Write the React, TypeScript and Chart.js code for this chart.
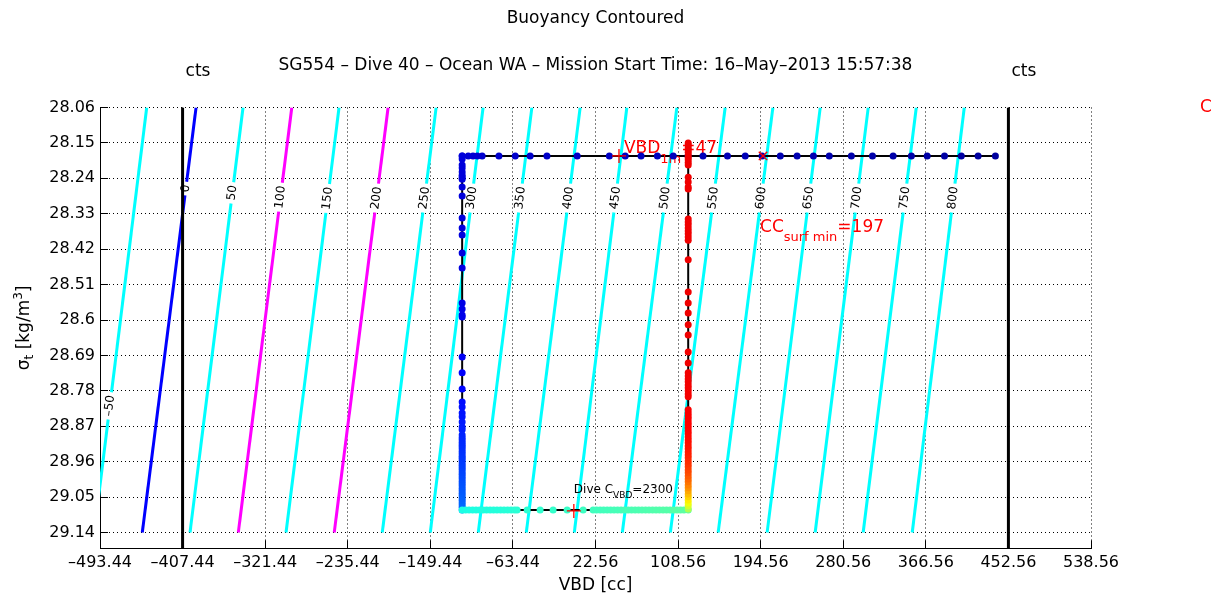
import React, { useEffect, useRef } from "react";
import { Chart, registerables } from "chart.js";

Chart.register(...registerables);

const FONT = "'DejaVu Sans', 'Liberation Sans', sans-serif";

// ---------- axes ----------
const xMin = -493.44;
const xMax = 538.56;
const yMin = 28.06;
const yMax = 29.18;
const xTickValues = [-493.44, -407.44, -321.44, -235.44, -149.44, -63.44, 22.56, 108.56, 194.56, 280.56, 366.56, 452.56, 538.56];
const yTickValues = [28.06, 28.15, 28.24, 28.33, 28.42, 28.51, 28.6, 28.69, 28.78, 28.87, 28.96, 29.05, 29.14];

const titleText = "Buoyancy Contoured";
const subtitleText = "SG554 \u2013 Dive 40 \u2013 Ocean WA \u2013 Mission Start Time: 16\u2013May\u20132013 15:57:38";

// ---------- buoyancy contours ----------
const contourLevels = [-50, 0, 50, 100, 150, 200, 250, 300, 350, 400, 450, 500, 550, 600, 650, 700, 750, 800];
const contourSigmaTop = 28.06;
const contourSigmaBottom = 29.14;
const contourVbdTop = [-444.8, -393.4, -344.5, -293.7, -244.5, -193.4, -143.4, -94.5, -43.7, 6.6, 55.2, 107.3, 157.6, 207.3, 256.6, 306.6, 356.6, 406.6];
const contourVbdBottom = [-499.5, -449.4, -399.7, -349.4, -299.7, -249.5, -199.5, -149.5, -99.5, -49.5, 0.5, 50.5, 100.5, 150.3, 201.3, 251.3, 301.3, 352.4];
const contourLabelSigma = [28.818, 28.266, 28.277, 28.288, 28.291, 28.29, 28.29, 28.29, 28.29, 28.29, 28.29, 28.29, 28.29, 28.29, 28.29, 28.29, 28.29, 28.29];

// ---------- "cts" reference lines ----------
const ctsLineVbd = [-407.44, 452.56];
const cLabelVbd = 652;

// ---------- dive trajectory ----------
const surfaceSigma = 28.183;
const topLegVbd = [439, 421, 403.5, 386, 368, 351.5, 332.5, 311, 289, 266, 249.5, 232.5, 215, 196, 178.5, 160, 134.5, 119, 103.5, 87, 70, 53.5, 37, 3.5, -28, -45.5, -61, -78, -95.5, -100.5, -105, -110, -116.3];

const descentVbd = -116.3;
const descentSigma = [28.183, 28.191, 28.206, 28.214, 28.224, 28.232, 28.237, 28.242, 28.262, 28.285, 28.341, 28.366, 28.384, 28.43, 28.468, 28.557, 28.572, 28.587, 28.592, 28.694, 28.734, 28.775, 28.808, 28.821, 28.836, 28.846, 28.859, 28.872, 28.879, 28.892, 28.899, 28.905, 28.911, 28.917, 28.922, 28.928, 28.934, 28.94, 28.946, 28.951, 28.957, 28.963, 28.969, 28.975, 28.98, 28.986, 28.992, 28.998, 29.004, 29.01, 29.016, 29.022, 29.028, 29.034, 29.04, 29.046, 29.052, 29.058, 29.064, 29.07, 29.076, 29.083];

const bottomSigma = 29.083;
const bottomLegVbd = [-116.3, -112.7, -109.1, -105.4, -101.8, -98.1, -94.5, -90.9, -87.2, -83.6, -80.0, -76.3, -72.7, -69.0, -65.4, -61.8, -59.1, -48.6, -35.1, -21.6, -7.0, 9.7, 20.1, 23.7, 27.4, 31.0, 34.7, 38.3, 41.9, 45.6, 49.2, 52.9, 56.5, 60.1, 63.8, 67.4, 71.0, 74.7, 78.3, 82.0, 85.6, 89.2, 92.9, 96.5, 100.2, 103.8, 107.4, 111.1, 114.7, 119.1];

const climbVbd = 119.1;
const climbSigma = [29.08, 29.072, 29.065, 29.057, 29.049, 29.042, 29.034, 29.026, 29.019, 29.011, 29.004, 28.996, 28.988, 28.981, 28.973, 28.966, 28.958, 28.95, 28.943, 28.935, 28.927, 28.92, 28.912, 28.905, 28.897, 28.889, 28.882, 28.874, 28.866, 28.859, 28.851, 28.844, 28.836, 28.828, 28.795, 28.788, 28.78, 28.772, 28.765, 28.757, 28.75, 28.742, 28.734, 28.709, 28.681, 28.638, 28.612, 28.582, 28.557, 28.529, 28.447, 28.397, 28.389, 28.381, 28.374, 28.366, 28.358, 28.351, 28.343, 28.267, 28.262, 28.249, 28.237, 28.206, 28.2, 28.193, 28.187, 28.181, 28.174, 28.168, 28.162, 28.155, 28.15];

// ---------- annotations ----------
const vbd1m = 47;
const ccSurfMin = 197;
const cVbdValue = 2300;
const cVbdMarkVbd = 0;
const cVbdMarkSigma = 29.085;

// ---------- layout (pixels) ----------
const W = 1223;
const H = 599;
const plotLeft = 100;
const plotRight = 1091;
const plotTop = 107.5;
const plotBottom = 548.3;

const jet = (t: number) => {
  const c = (v: number) => Math.round(255 * Math.max(0, Math.min(1, v)));
  return `rgb(${c(1.5 - Math.abs(4 * t - 3))},${c(1.5 - Math.abs(4 * t - 2))},${c(1.5 - Math.abs(4 * t - 1))})`;
};

const fmtX = (v: number) => (v < 0 ? "\u2013" : "") + Math.abs(v).toFixed(2);
const fmtY = (v: number) => String(Math.round(v * 100) / 100);
const fmtLevel = (v: number) => (v < 0 ? "\u2013" : "") + Math.abs(v);

const contourColor = (lvl: number) => (lvl === 0 ? "#0000ff" : lvl === 100 || lvl === 200 ? "#ff00ff" : "#00ffff");

const vbdOnContour = (k: number, s: number) =>
  contourVbdTop[k] + ((contourVbdBottom[k] - contourVbdTop[k]) * (s - contourSigmaTop)) / (contourSigmaBottom - contourSigmaTop);

function drawRich(ctx: CanvasRenderingContext2D, x: number, y: number, parts: [string, number, number][]) {
  let cx = x;
  for (const [txt, size, dy] of parts) {
    ctx.font = `${size}px ${FONT}`;
    ctx.fillText(txt, cx, y + dy);
    cx += ctx.measureText(txt).width;
  }
}

function richWidth(ctx: CanvasRenderingContext2D, parts: [string, number, number][]) {
  let w = 0;
  for (const [txt, size] of parts) {
    ctx.font = `${size}px ${FONT}`;
    w += ctx.measureText(txt).width;
  }
  return w;
}

const overlayPlugin: any = {
  id: "overlay",
  beforeDatasetsDraw(chart: any) {
    const { ctx, chartArea: a, scales } = chart;
    const x = scales.x;
    const y = scales.y;
    ctx.save();
    ctx.strokeStyle = "#000";
    ctx.lineWidth = 1;
    ctx.setLineDash([]);
    ctx.beginPath();
    for (const v of xTickValues) {
      const px = Math.round(x.getPixelForValue(v) - 0.5) + 0.5;
      ctx.moveTo(px, a.bottom);
      ctx.lineTo(px, a.bottom - 8);
    }
    for (const v of yTickValues) {
      const py = Math.round(y.getPixelForValue(v) - 0.5) + 0.5;
      ctx.moveTo(a.left, py);
      ctx.lineTo(a.left + 8, py);
    }
    ctx.stroke();
    ctx.restore();
  },
  afterDatasetDraw(chart: any, args: any) {
    const ds = chart.data.datasets[args.index];
    if (ds.label !== "trajectory") return;
    const { ctx, scales } = chart;
    const x = scales.x;
    const y = scales.y;
    ctx.save();
    ctx.textAlign = "left";
    ctx.textBaseline = "alphabetic";
    ctx.fillStyle = "#ff0000";
    const p1x = x.getPixelForValue(vbd1m);
    const p1y = y.getPixelForValue(surfaceSigma);
    drawRich(ctx, p1x + 5, p1y - 3, [["VBD", 17, 0], ["1m", 13, 10], ["=" + String(vbd1m), 17, 0]]);
    const p2x = x.getPixelForValue(ccSurfMin);
    drawRich(ctx, p2x - 3, p1y + 76, [["CC", 17, 0], ["surf min", 13, 9], ["=" + String(ccSurfMin), 17, 0]]);
    ctx.fillStyle = "#000";
    const p3x = x.getPixelForValue(cVbdMarkVbd);
    const p3y = y.getPixelForValue(cVbdMarkSigma);
    drawRich(ctx, p3x, p3y - 18, [["Dive C", 12, 0], ["VBD", 9, 5], ["=" + String(cVbdValue), 12, 0]]);
    ctx.restore();
  },
  afterDatasetsDraw(chart: any) {
    const { ctx, scales } = chart;
    const x = scales.x;
    const y = scales.y;
    ctx.save();
    ctx.font = `12px ${FONT}`;
    ctx.fillStyle = "#000";
    ctx.textAlign = "center";
    ctx.textBaseline = "middle";
    contourLevels.forEach((lvl, k) => {
      const s = contourLabelSigma[k];
      const px = x.getPixelForValue(vbdOnContour(k, s));
      const py = y.getPixelForValue(s);
      const ang = Math.atan2(
        y.getPixelForValue(contourSigmaTop) - y.getPixelForValue(contourSigmaBottom),
        x.getPixelForValue(contourVbdTop[k]) - x.getPixelForValue(contourVbdBottom[k])
      );
      ctx.save();
      ctx.translate(px, py);
      ctx.rotate(ang);
      ctx.fillText(fmtLevel(lvl), 0, 0);
      ctx.restore();
    });
    ctx.restore();
  },
  afterDraw(chart: any) {
    const { ctx, chartArea: a, scales } = chart;
    const x = scales.x;
    const y = scales.y;
    const cx = (a.left + a.right) / 2;
    ctx.save();
    ctx.fillStyle = "#000";
    ctx.font = `17px ${FONT}`;
    ctx.textAlign = "center";
    ctx.textBaseline = "middle";
    ctx.fillText(titleText, cx, 19);
    ctx.fillText(subtitleText, cx, 66);
    ctx.fillText("VBD [cc]", cx, 586);
    ctx.textAlign = "left";
    for (const v of ctsLineVbd) ctx.fillText("cts", x.getPixelForValue(v) + 3, 72);
    ctx.fillStyle = "#ff0000";
    ctx.fillText("C", x.getPixelForValue(cLabelVbd), y.getPixelForValue(yMin));
    // y axis title
    ctx.fillStyle = "#000";
    const parts: [string, number, number][] = [["\u03c3", 17, 0], ["t", 12, 4], [" [kg/m", 17, 0], ["3", 12, -7], ["]", 17, 0]];
    const tw = richWidth(ctx, parts);
    ctx.translate(29, (a.top + a.bottom) / 2);
    ctx.rotate(-Math.PI / 2);
    ctx.textBaseline = "alphabetic";
    drawRich(ctx, -tw / 2, 0, parts);
    ctx.restore();
  },
};

function buildConfig(): any {
  const mctx = document.createElement("canvas").getContext("2d") as CanvasRenderingContext2D;
  mctx.font = `12px ${FONT}`;
  const pxPerSigma = (plotBottom - plotTop) / (yMax - yMin);

  const datasets: any[] = [];

  contourLevels.forEach((lvl, k) => {
    const sl = contourLabelSigma[k];
    const half = (mctx.measureText(fmtLevel(lvl)).width / 2 + 3) / pxPerSigma;
    const color = contourColor(lvl);
    const base = { type: "scatter", showLine: true, pointRadius: 0, borderColor: color, borderWidth: 3, order: 6, clip: 0 };
    datasets.push({
      ...base,
      label: "contour" + lvl + "a",
      data: [
        { x: contourVbdTop[k], y: contourSigmaTop },
        { x: vbdOnContour(k, sl - half), y: sl - half },
      ],
    });
    datasets.push({
      ...base,
      label: "contour" + lvl + "b",
      data: [
        { x: vbdOnContour(k, sl + half), y: sl + half },
        { x: contourVbdBottom[k], y: contourSigmaBottom },
      ],
    });
  });

  ctsLineVbd.forEach((v, i) => {
    datasets.push({
      type: "scatter",
      label: "cts" + i,
      showLine: true,
      pointRadius: 0,
      borderColor: "#000",
      borderWidth: 3,
      order: 5,
      clip: 0,
      data: [
        { x: v, y: yMin },
        { x: v, y: yMax },
      ],
    });
  });

  const traj: { x: number; y: number }[] = [];
  const colors: string[] = [];
  topLegVbd.forEach((v, i) => {
    traj.push({ x: v, y: surfaceSigma });
    colors.push(jet(0.03 + (0.055 * i) / (topLegVbd.length - 1)));
  });
  descentSigma.forEach((s) => {
    traj.push({ x: descentVbd, y: s });
    const g = (s - surfaceSigma) / (bottomSigma - surfaceSigma);
    colors.push(jet(0.09 + 0.14 * g * g * g));
  });
  bottomLegVbd.forEach((v) => {
    traj.push({ x: v, y: bottomSigma });
    const f = (v - bottomLegVbd[0]) / (bottomLegVbd[bottomLegVbd.length - 1] - bottomLegVbd[0]);
    colors.push(jet(0.4 + 0.065 * f));
  });
  const climbTop = climbSigma[climbSigma.length - 1];
  climbSigma.forEach((s) => {
    traj.push({ x: climbVbd, y: s });
    const f = (bottomSigma - s) / (bottomSigma - climbTop);
    colors.push(jet(0.53 + 0.36 * (1 - Math.exp(-f / 0.075))));
  });

  datasets.push({
    type: "scatter",
    label: "trajectory",
    showLine: true,
    pointRadius: 0,
    borderColor: "#000",
    borderWidth: 2,
    order: 4,
    data: traj,
  });
  datasets.push({
    type: "scatter",
    label: "samples",
    showLine: false,
    pointRadius: 3.5,
    pointBorderWidth: 0,
    pointBackgroundColor: colors,
    pointBorderColor: colors,
    order: 3,
    data: traj,
  });
  datasets.push({
    type: "scatter",
    label: "marks",
    showLine: false,
    pointStyle: ["cross", "crossRot", "cross"],
    pointRadius: [7, 6, 7],
    pointBorderColor: "#ff0000",
    pointBackgroundColor: "#ff0000",
    pointBorderWidth: 1.3,
    order: 1,
    data: [
      { x: vbd1m, y: surfaceSigma },
      { x: ccSurfMin, y: surfaceSigma },
      { x: cVbdMarkVbd, y: cVbdMarkSigma },
    ],
  });

  return {
    type: "scatter",
    data: { datasets },
    plugins: [overlayPlugin],
    options: {
      animation: false,
      responsive: false,
      maintainAspectRatio: false,
      events: [],
      layout: { padding: { top: plotTop, right: W - plotRight, left: 0, bottom: 0 } },
      plugins: {
        legend: { display: false },
        tooltip: { enabled: false },
        title: { display: false },
      },
      scales: {
        x: {
          type: "linear",
          min: xMin,
          max: xMax,
          bounds: "data",
          afterBuildTicks: (s: any) => {
            s.ticks = xTickValues.map((v) => ({ value: v }));
          },
          afterFit: (s: any) => {
            s.height = H - plotBottom;
          },
          ticks: {
            autoSkip: false,
            maxRotation: 0,
            minRotation: 0,
            padding: 5,
            color: "#000",
            font: { family: FONT, size: 16 },
            callback: (v: any) => fmtX(Number(v)),
          },
          grid: { color: "#000", lineWidth: 1, drawTicks: false },
          border: { display: true, color: "#000", width: 1, dash: [1, 3] },
        },
        y: {
          type: "linear",
          reverse: true,
          min: yMin,
          max: yMax,
          bounds: "data",
          afterBuildTicks: (s: any) => {
            s.ticks = yTickValues.map((v) => ({ value: v }));
          },
          afterFit: (s: any) => {
            s.width = plotLeft;
          },
          ticks: {
            autoSkip: false,
            padding: 5,
            color: "#000",
            font: { family: FONT, size: 16 },
            callback: (v: any) => fmtY(Number(v)),
          },
          grid: { color: "#000", lineWidth: 1, drawTicks: false },
          border: { display: true, color: "#000", width: 1, dash: [1, 3] },
        },
      },
    },
  };
}

export default function App() {
  const ref = useRef<HTMLCanvasElement>(null);
  useEffect(() => {
    const canvas = ref.current;
    if (!canvas) return;
    const chart = new Chart(canvas, buildConfig());
    return () => chart.destroy();
  }, []);
  return (
    <div style={{ position: "absolute", left: 0, top: 0, width: W, height: H, background: "#fff" }}>
      <canvas ref={ref} width={W} height={H} style={{ display: "block" }} />
    </div>
  );
}
